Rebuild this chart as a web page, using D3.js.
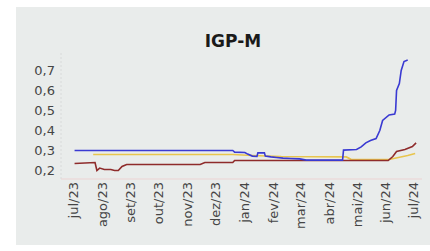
<!DOCTYPE html>
<html>
<head>
<meta charset="utf-8">
<script src="https://cdn.jsdelivr.net/npm/d3@7"></script>
<style>
  html, body { margin: 0; padding: 0; background: #ffffff; }
  svg { display: block; }
</style>
</head>
<body>
<svg id="chart" width="430" height="251"></svg>
<script>
// ---- data ----
const title = "IGP-M";
const xTickDates = ["2023-07-01","2023-08-01","2023-09-01","2023-10-01","2023-11-01","2023-12-01",
                    "2024-01-01","2024-02-01","2024-03-01","2024-04-01","2024-05-01","2024-06-01","2024-07-01"];
const xTickLabels = ["jul/23","ago/23","set/23","out/23","nov/23","dez/23",
                     "jan/24","fev/24","mar/24","abr/24","mai/24","jun/24","jul/24"];
const yTickValues = [0.2, 0.3, 0.4, 0.5, 0.6, 0.7];

const blueDates = ["2023-07-03","2023-12-20","2023-12-22","2024-01-02","2024-01-05","2024-01-10","2024-01-15",
  "2024-01-16","2024-01-23","2024-01-24","2024-01-30","2024-02-05","2024-02-12","2024-02-20","2024-03-01",
  "2024-03-08","2024-04-16","2024-04-17","2024-05-01","2024-05-06","2024-05-11","2024-05-16","2024-05-22",
  "2024-05-26","2024-05-29","2024-06-05","2024-06-11","2024-06-12","2024-06-13","2024-06-16","2024-06-18",
  "2024-06-21","2024-06-25"];
const blueValues = [0.300,0.300,0.292,0.290,0.282,0.272,0.270,
  0.288,0.288,0.272,0.268,0.265,0.262,0.260,0.258,
  0.252,0.252,0.302,0.305,0.318,0.338,0.350,0.360,
  0.400,0.450,0.478,0.482,0.500,0.600,0.635,0.700,
  0.745,0.752];

const redDates = ["2023-07-03","2023-07-25","2023-07-27","2023-07-30","2023-08-04","2023-08-11","2023-08-15",
  "2023-08-19","2023-08-23","2023-08-28","2023-11-15","2023-11-20","2023-12-20","2023-12-22","2024-06-04",
  "2024-06-09","2024-06-13","2024-06-22","2024-06-30","2024-07-04"];
const redValues = [0.235,0.240,0.200,0.212,0.205,0.205,0.200,
  0.200,0.220,0.230,0.230,0.240,0.240,0.250,0.250,
  0.270,0.295,0.305,0.320,0.338];

const yellowDates = ["2023-07-23","2023-12-20","2024-01-10","2024-02-10","2024-04-20","2024-04-25",
  "2024-06-05","2024-06-15","2024-06-25","2024-07-03"];
const yellowValues = [0.280,0.280,0.275,0.270,0.268,0.256,
  0.255,0.265,0.275,0.285];

// ---- drawing ----
const parse = d3.timeParse("%Y-%m-%d");
const svg = d3.select("#chart");

svg.append("rect").attr("x", 16).attr("y", 7).attr("width", 414).attr("height", 238)
  .attr("fill", "#e9eceb");

const x = d3.scaleTime()
  .domain([parse("2023-07-01"), parse("2024-07-01")])
  .range([72.7, 413.3]);
const y = d3.scaleLinear().domain([0.2, 0.7]).range([170.5, 70.5]);

const xLeft = 61, xRight = 422, yBottom = 179, yTop = 53;

// axis frame lines
svg.append("line").attr("x1", xLeft).attr("x2", xLeft).attr("y1", yTop).attr("y2", yBottom)
  .attr("stroke", "#d8dada").attr("stroke-width", 1).attr("stroke-dasharray", "2,2");
svg.append("line").attr("x1", xLeft).attr("x2", xRight).attr("y1", yBottom).attr("y2", yBottom)
  .attr("stroke", "#ecd3d3").attr("stroke-width", 1);

// y axis
const yAxis = d3.axisLeft(y).tickValues(yTickValues).tickSize(0).tickPadding(0)
  .tickFormat(d => d3.format(".1f")(d).replace(".", ","));
const gy = svg.append("g").attr("transform", `translate(${xLeft - 6},0)`).call(yAxis);
gy.select(".domain").remove();
gy.selectAll("text").attr("fill", "#454545").style("font-family", "DejaVu Sans")
  .style("font-size", "13px");

// x axis
const xAxis = d3.axisBottom(x).tickValues(xTickDates.map(parse)).tickSize(0)
  .tickFormat((d, i) => xTickLabels[i]);
const gx = svg.append("g").attr("transform", `translate(0,${yBottom + 3})`).call(xAxis);
gx.select(".domain").remove();
gx.selectAll("text")
  .attr("fill", "#454545").style("font-family", "DejaVu Sans").style("font-size", "13px")
  .attr("text-anchor", "end").attr("transform", "rotate(-90)")
  .attr("x", 0).attr("y", 0).attr("dx", 0).attr("dy", "0.35em");

// lines
const line = d3.line().x(d => x(d[0])).y(d => y(d[1]));
function series(dates, values) { return dates.map((d, i) => [parse(d), values[i]]); }

svg.append("path").datum(series(yellowDates, yellowValues)).attr("d", line)
  .attr("fill", "none").attr("stroke", "#e8c54e").attr("stroke-width", 1.7);
svg.append("path").datum(series(redDates, redValues)).attr("d", line)
  .attr("fill", "none").attr("stroke", "#8e2b2b").attr("stroke-width", 1.6);
svg.append("path").datum(series(blueDates, blueValues)).attr("d", line)
  .attr("fill", "none").attr("stroke", "#3a3ad2").attr("stroke-width", 1.6);

// title
svg.append("text").attr("x", 233).attr("y", 47).attr("text-anchor", "middle")
  .style("font-family", "DejaVu Sans").style("font-weight", "bold").style("font-size", "17px")
  .attr("fill", "#1a1a1a").text(title);
</script>
</body>
</html>
